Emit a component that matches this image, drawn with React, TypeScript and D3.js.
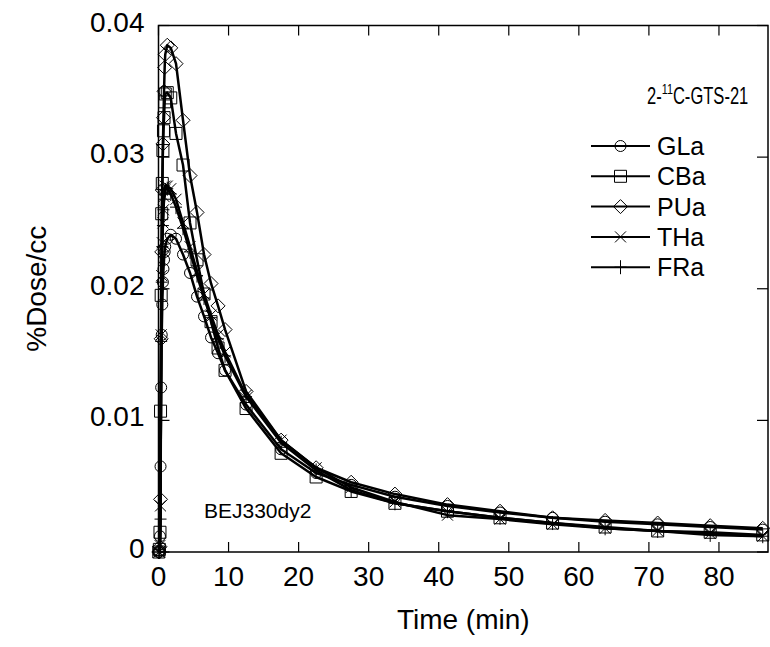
import React from 'react';
import * as d3 from 'd3';

// frame mid times (min)
const times = [0.04, 0.12, 0.21, 0.29, 0.38, 0.46, 0.54, 0.63, 0.71, 0.79, 0.88, 0.96,
  1.25, 1.75, 2.5, 3.5, 4.5, 5.5, 6.5, 7.5, 8.5, 9.5,
  12.5, 17.5, 22.5, 27.5, 33.75, 41.25, 48.75, 56.25, 63.75, 71.25, 78.75, 86.25];

const GLa = [0, 0.0001, 0.0012, 0.0065, 0.0125, 0.0165, 0.0188, 0.0205, 0.0215, 0.0222, 0.0228, 0.0232,
  0.0238, 0.0241, 0.0238, 0.0226, 0.0212, 0.0194, 0.0179, 0.0163, 0.0151, 0.0138,
  0.0112, 0.0078, 0.006, 0.0051, 0.0042, 0.0035, 0.003, 0.0026, 0.0023, 0.0021, 0.0019, 0.0017];
const CBa = [0, 0.0002, 0.0015, 0.0107, 0.0195, 0.0257, 0.028, 0.0305, 0.032, 0.033, 0.0342, 0.0348,
  0.0349, 0.0345, 0.0318, 0.0294, 0.025, 0.0222, 0.0196, 0.0175, 0.0155, 0.0138,
  0.0109, 0.0075, 0.0057, 0.0046, 0.0037, 0.0031, 0.0026, 0.0022, 0.0019, 0.0016, 0.0015, 0.0013];
const PUa = [0, 0, 0.0004, 0.004, 0.0162, 0.0228, 0.0275, 0.031, 0.033, 0.035, 0.0368, 0.0378,
  0.0385, 0.0383, 0.0371, 0.0328, 0.0286, 0.0258, 0.0226, 0.0204, 0.0187, 0.0169,
  0.0122, 0.0085, 0.0064, 0.0053, 0.0044, 0.0036, 0.0031, 0.0026, 0.0024, 0.0022, 0.002, 0.0018];
const THa = [0, 0, 0.0005, 0.0035, 0.0165, 0.021, 0.0235, 0.025, 0.026, 0.027, 0.0275, 0.0278,
  0.0278, 0.0276, 0.0268, 0.025, 0.0232, 0.0213, 0.0196, 0.018, 0.0165, 0.0152,
  0.0119, 0.0085, 0.0064, 0.0049, 0.0038, 0.0028, 0.0025, 0.0021, 0.0018, 0.0016, 0.0014, 0.0012];
const FRa = [0, 0, 0.0002, 0.0025, 0.016, 0.0205, 0.0232, 0.0248, 0.026, 0.0268, 0.0272, 0.0275,
  0.0276, 0.0272, 0.0262, 0.0246, 0.0228, 0.021, 0.0193, 0.0178, 0.0162, 0.0149,
  0.0118, 0.0083, 0.0062, 0.0047, 0.0037, 0.0031, 0.0026, 0.0022, 0.0018, 0.0016, 0.0013, 0.0012];

const seriesNames = ['GLa', 'CBa', 'PUa', 'THa', 'FRa'];
const seriesValues = [GLa, CBa, PUa, THa, FRa];
const markerKinds = ['circle', 'square', 'diamond', 'times', 'plus'];

const xTicks = [0, 10, 20, 30, 40, 50, 60, 70, 80];
const yTicks = [0, 0.01, 0.02, 0.03, 0.04];
const yTickLabels = ['0', '0.01', '0.02', '0.03', '0.04'];

const W = 770, H = 647;
const m = { left: 158.5, right: 768, top: 25.5, bottom: 552 };
const font = '"Liberation Sans", Arial, sans-serif';

function markerPath(kind: string, cx: number, cy: number) {
  const p = d3.path();
  if (kind === 'circle') {
    p.moveTo(cx + 5.5, cy);
    p.arc(cx, cy, 5.5, 0, Math.PI * 2);
  } else if (kind === 'square') {
    p.rect(cx - 6, cy - 6, 12, 12);
  } else if (kind === 'diamond') {
    p.moveTo(cx, cy - 7); p.lineTo(cx + 7, cy); p.lineTo(cx, cy + 7); p.lineTo(cx - 7, cy); p.closePath();
  } else if (kind === 'times') {
    p.moveTo(cx - 5.5, cy - 5.5); p.lineTo(cx + 5.5, cy + 5.5);
    p.moveTo(cx - 5.5, cy + 5.5); p.lineTo(cx + 5.5, cy - 5.5);
  } else {
    p.moveTo(cx - 6, cy); p.lineTo(cx + 6, cy);
    p.moveTo(cx, cy - 7); p.lineTo(cx, cy + 7);
  }
  return p.toString();
}

export default function App() {
  const x = d3.scaleLinear().domain([0, 87]).range([m.left, m.right]);
  const y = d3.scaleLinear().domain([0, 0.04]).range([m.bottom, m.top]);
  const line = d3.line<number>().x((_, i) => x(times[i])).y(d => y(d));

  return (
    <div style={{ position: 'absolute', left: 0, top: 0 }}>
      <svg width={W} height={H} style={{ display: 'block', background: '#fff' }} fontFamily={font}>
        {/* frame */}
        <rect x={m.left} y={m.top} width={m.right - m.left} height={m.bottom - m.top}
          fill="none" stroke="#000" strokeWidth={1.5} />
        {xTicks.map(t => (
          <g key={'x' + t}>
            <line x1={x(t)} x2={x(t)} y1={m.bottom} y2={m.bottom - 10} stroke="#000" strokeWidth={1.2} />
            <line x1={x(t)} x2={x(t)} y1={m.top} y2={m.top + 10} stroke="#000" strokeWidth={1.2} />
            <text x={x(t)} y={m.bottom + 34} fontSize={28} textAnchor="middle">{t}</text>
          </g>
        ))}
        {yTicks.map((t, i) => (
          <g key={'y' + t}>
            <line x1={m.left} x2={m.left + 11} y1={y(t)} y2={y(t)} stroke="#000" strokeWidth={1.2} />
            <line x1={m.right} x2={m.right - 11} y1={y(t)} y2={y(t)} stroke="#000" strokeWidth={1.2} />
            <text x={m.left - 14} y={y(t) + 6} fontSize={28} textAnchor="end">{yTickLabels[i]}</text>
          </g>
        ))}
        <text x={(m.left + m.right) / 2} y={629} fontSize={28} textAnchor="middle">Time (min)</text>
        <text transform={`translate(46,${(m.top + m.bottom) / 2}) rotate(-90)`} fontSize={28}
          textAnchor="middle">%Dose/cc</text>

        {/* series */}
        {seriesValues.map((vals, si) => (
          <g key={seriesNames[si]}>
            <path d={line(vals) || ''} fill="none" stroke="#000" strokeWidth={2.5} strokeLinejoin="round" />
            {vals.map((v, i) => (
              <path key={i} d={markerPath(markerKinds[si], x(times[i]), y(v))}
                fill="none" stroke="#000" strokeWidth={1} />
            ))}
          </g>
        ))}

        {/* title and legend */}
        <text transform="translate(647,104) scale(0.72,1)" fontSize={23}>
          2-<tspan dy={-10} fontSize={15}>11</tspan><tspan dy={10}>C-GTS-21</tspan>
        </text>
        {seriesNames.map((n, i) => {
          const ly = 146 + i * 30.3;
          return (
            <g key={'lg' + n}>
              <line x1={591} x2={650} y1={ly} y2={ly} stroke="#000" strokeWidth={2} />
              <path d={markerPath(markerKinds[i], 620.5, ly)} fill="none" stroke="#000" strokeWidth={1} />
              <text x={657} y={ly + 9} fontSize={25}>{n}</text>
            </g>
          );
        })}
        <text x={204} y={518} fontSize={21}>BEJ330dy2</text>
      </svg>
    </div>
  );
}
